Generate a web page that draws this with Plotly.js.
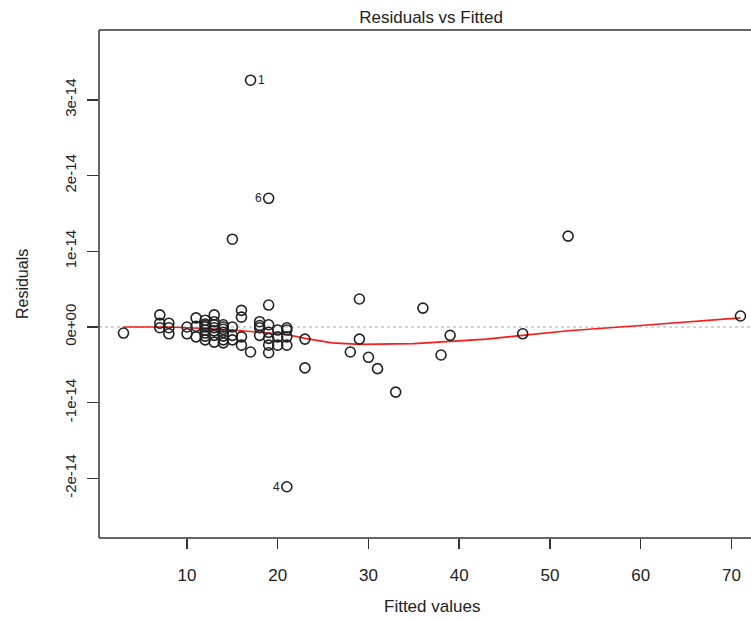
<!DOCTYPE html>
<html>
<head>
<meta charset="utf-8">
<script src="https://cdn.plot.ly/plotly-3.0.1.min.js"></script>
<style>html,body{margin:0;padding:0;background:#fff;}#chart{width:751px;height:621px;}</style>
</head>
<body>
<div id="chart"></div>
<script>
// Fitted values and residuals
const fitted = [
  3,
  7, 7, 7,
  8, 8, 8,
  10, 10,
  11, 11, 11,
  12, 12, 12, 12, 12, 12, 12, 12,
  13, 13, 13, 13, 13, 13, 13,
  14, 14, 14, 14, 14, 14, 14,
  15, 15, 15, 15,
  16, 16, 16, 16,
  17, 17,
  18, 18, 18, 18,
  19, 19, 19, 19, 19, 19, 19,
  20, 20, 20,
  21, 21, 21, 21, 21,
  23, 23,
  28, 29, 29, 30, 31, 33, 36, 38, 39, 47, 52, 71
];
const residuals = [
  -0.08e-14,
  0.16e-14, 0.05e-14, -0.01e-14,
  0.05e-14, -0.01e-14, -0.09e-14,
  0.00e-14, -0.09e-14,
  0.12e-14, 0.01e-14, -0.13e-14,
  0.09e-14, 0.04e-14, 0.02e-14, 0.00e-14, -0.04e-14, -0.08e-14, -0.12e-14, -0.17e-14,
  0.16e-14, 0.07e-14, 0.03e-14, -0.01e-14, -0.05e-14, -0.11e-14, -0.20e-14,
  0.03e-14, 0.00e-14, -0.03e-14, -0.07e-14, -0.12e-14, -0.17e-14, -0.21e-14,
  1.16e-14, 0.00e-14, -0.11e-14, -0.17e-14,
  0.22e-14, 0.13e-14, -0.13e-14, -0.24e-14,
  3.26e-14, -0.33e-14,
  0.07e-14, 0.02e-14, -0.01e-14, -0.11e-14,
  1.70e-14, 0.29e-14, 0.03e-14, -0.07e-14, -0.15e-14, -0.24e-14, -0.34e-14,
  -0.04e-14, -0.13e-14, -0.24e-14,
  -0.01e-14, -0.04e-14, -0.13e-14, -0.24e-14, -2.11e-14,
  -0.16e-14, -0.54e-14,
  -0.33e-14, 0.37e-14, -0.16e-14, -0.40e-14, -0.55e-14, -0.86e-14, 0.25e-14, -0.37e-14, -0.11e-14, -0.09e-14, 1.20e-14, 0.145e-14
];
// Smoother (red line)
const smoothX = [3, 8, 12, 15, 18, 21, 23, 26, 29, 32, 35, 39, 43, 47, 52, 60, 71];
const smoothY = [0.0, 0.0, -0.02e-14, -0.04e-14, -0.07e-14, -0.10e-14, -0.15e-14, -0.21e-14, -0.23e-14, -0.23e-14, -0.22e-14, -0.19e-14, -0.16e-14, -0.11e-14, -0.05e-14, 0.02e-14, 0.12e-14];
// Labelled observations
const labelIds = ["1", "6", "4"];
const labelX = [17, 19, 21];
const labelY = [3.26e-14, 1.70e-14, -2.11e-14];
const labelSide = ["right", "left", "left"];
// Ticks
const yTickVals = [-2e-14, -1e-14, 0, 1e-14, 2e-14, 3e-14];
const yTickText = ["-2e-14", "-1e-14", "0e+00", "1e-14", "2e-14", "3e-14"];
const xTickVals = [10, 20, 30, 40, 50, 60, 70];

const FONT = "Liberation Sans, Arial, Helvetica, sans-serif";
const AX = "#333";

const traces = [
  {
    x: smoothX, y: smoothY, type: "scatter", mode: "lines",
    line: {color: "#ff1a1a", width: 1.6}, hoverinfo: "skip"
  },
  {
    x: fitted, y: residuals, type: "scatter", mode: "markers",
    marker: {symbol: "circle-open", size: 10, color: "#222", line: {width: 1.6, color: "#222"}}
  }
];

const annotations = labelIds.map((t, i) => ({
  x: labelX[i], y: labelY[i], xref: "x", yref: "y", text: t, showarrow: false,
  xanchor: labelSide[i] === "right" ? "left" : "right", yanchor: "middle",
  xshift: labelSide[i] === "right" ? 5 : -5,
  font: {family: FONT, size: 12, color: "#222"}
}));
annotations.push(
  {x: 0.511, y: -0.1358, xref: "paper", yref: "paper", text: "Fitted values", showarrow: false,
   xanchor: "center", yanchor: "middle", font: {family: FONT, size: 17, color: "#222"}},
  {x: -0.118, y: 0.5, xref: "paper", yref: "paper", text: "Residuals", showarrow: false, textangle: -90,
   xanchor: "center", yanchor: "middle", font: {family: FONT, size: 16, color: "#222"}}
);

const layout = {
  width: 751, height: 621,
  margin: {l: 99, r: 0, t: 30, b: 83, pad: 0},
  paper_bgcolor: "#fff", plot_bgcolor: "#fff",
  showlegend: false,
  title: {text: "Residuals vs Fitted", font: {family: FONT, size: 17, color: "#222"},
          x: 0.574, xref: "container", xanchor: "center", y: 1 - 17/621, yref: "container", yanchor: "middle"},
  xaxis: {
    range: [0.3, 72.16], showgrid: false, zeroline: false, showline: false,
    tickmode: "array", tickvals: xTickVals, ticks: "outside", ticklen: 10, tickwidth: 1.5, tickcolor: AX,
    tickfont: {family: FONT, size: 17, color: "#222"}, ticklabelstandoff: 12
  },
  yaxis: {
    range: [-2.787e-14, 3.923e-14], showgrid: false, zeroline: false, showline: false,
    tickmode: "array", tickvals: yTickVals, ticktext: yTickText, tickangle: -90,
    ticks: "outside", ticklen: 11, tickwidth: 1.5, tickcolor: AX,
    tickfont: {family: FONT, size: 15, color: "#222"}, ticklabelstandoff: 5
  },
  shapes: [
    {type: "line", xref: "paper", yref: "y", x0: 0, x1: 1, y0: 0, y1: 0, layer: "below",
     line: {color: "#aaa", width: 1, dash: "dot"}},
    {type: "line", xref: "paper", yref: "paper", x0: 0, x1: 0, y0: 0, y1: 1, line: {color: AX, width: 1.5}},
    {type: "line", xref: "paper", yref: "paper", x0: 0, x1: 1, y0: 0, y1: 0, line: {color: AX, width: 1.5}},
    {type: "line", xref: "paper", yref: "paper", x0: 0, x1: 1, y0: 1, y1: 1, line: {color: AX, width: 1.5}}
  ],
  annotations: annotations
};

Plotly.newPlot("chart", traces, layout, {displayModeBar: false, staticPlot: true});
</script>
</body>
</html>
